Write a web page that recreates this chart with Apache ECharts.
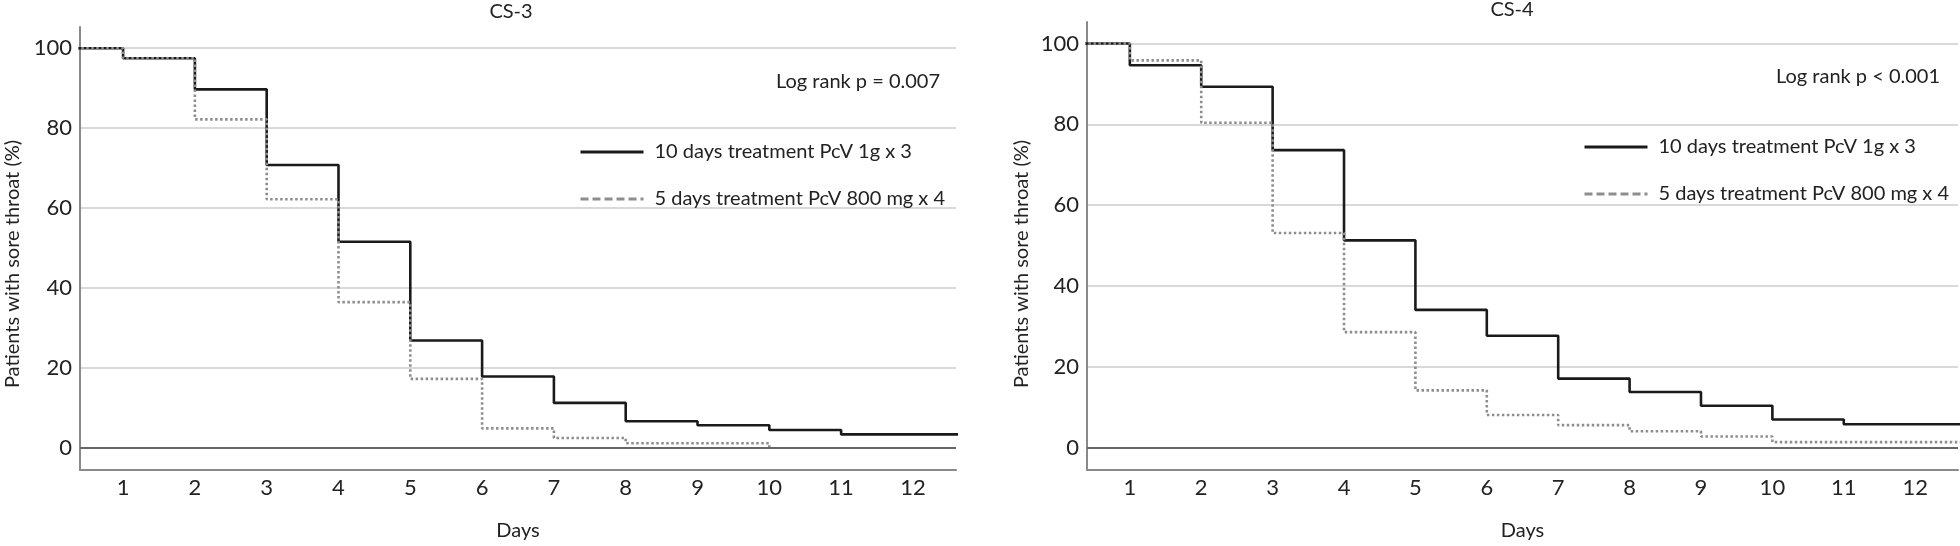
<!DOCTYPE html>
<html>
<head>
<meta charset="utf-8">
<script src="https://cdn.jsdelivr.net/npm/echarts@6/dist/echarts.min.js"></script>
<style>
  html, body { margin: 0; padding: 0; background: #fff; }
  #chart { width: 1960px; height: 546px; }
</style>
</head>
<body>
<div id="chart"></div>
<script>
// --- данные: доля пациентов с болью в горле (%) после каждого дня
const days = [0, 1, 2, 3, 4, 5, 6, 7, 8, 9, 10, 11, 12, 13];
const daysShort = [0, 1, 2, 3, 4, 5, 6, 7, 8, 9, 10];
const dayTicks = [1, 2, 3, 4, 5, 6, 7, 8, 9, 10, 11, 12];
const pctTicks = [0, 20, 40, 60, 80, 100];

const cs3Long = [100, 97.5, 89.7, 70.8, 51.6, 26.9, 17.9, 11.3, 6.7, 5.7, 4.5, 3.4, 3.4, 3.4];
const cs3Short = [100, 97.5, 82.2, 62.2, 36.5, 17.3, 4.9, 2.5, 1.2, 1.2, 0];
const cs4Long = [100, 94.6, 89.3, 73.6, 51.3, 34.1, 27.7, 17.1, 13.8, 10.4, 7.0, 5.8, 5.8, 5.8];
const cs4Short = [100, 95.8, 80.4, 53.1, 28.6, 14.2, 8.1, 5.6, 4.1, 2.8, 1.4, 1.4, 1.4, 1.4];

const titles = ['CS-3', 'CS-4'];
const pValues = ['Log rank p = 0.007', 'Log rank p < 0.001'];
const yName = 'Patients with sore throat (%)';
const nameLong = '10 days treatment PcV 1g x 3';
const nameShort = '5 days treatment PcV 800 mg x 4';

const FONT = 'Lato';
const TXT = '#222';

const chart = echarts.init(document.getElementById('chart'));

const pairs = (xs, ys) => ys.map((y, i) => [xs[i], y]);

function xAxis(idx) {
  return {
    type: 'value', gridIndex: idx, min: 0.4, max: 12.6,
    name: 'Days', nameLocation: 'middle', nameGap: 51,
    nameTextStyle: { fontFamily: FONT, fontSize: 20, color: TXT },
    axisLine: { show: true, onZero: false, lineStyle: { color: '#8a8a8a', width: 2 } },
    axisTick: { show: false, customValues: dayTicks },
    axisLabel: { customValues: dayTicks, fontFamily: FONT, fontSize: 22, color: TXT, margin: 7 },
    splitLine: { show: false },
  };
}

function yAxis(idx) {
  return {
    type: 'value', gridIndex: idx, min: -5.5, max: 105.3,
    axisLine: { show: true, onZero: false, lineStyle: { color: '#8a8a8a', width: 2 } },
    axisTick: { show: false, customValues: pctTicks },
    axisLabel: { customValues: pctTicks, fontFamily: FONT, fontSize: 22, color: TXT, margin: 8 },
    splitLine: { show: true, lineStyle: { color: '#cccccc', width: 1.5 } },
  };
}

function stepSeries(name, data, idx, solid) {
  const s = {
    name, type: 'line', step: 'end', xAxisIndex: idx, yAxisIndex: idx,
    data, symbol: 'none', clip: true, silent: true,
    lineStyle: solid
      ? { color: '#1a1a1a', width: 2.6, type: 'solid' }
      : { color: '#8e8e8e', width: 2.6, type: [2.5, 2.5] },
    itemStyle: { color: solid ? '#1a1a1a' : '#8e8e8e' },
    z: solid ? 3 : 4,
  };
  if (solid) {
    // линия нуля — тёмная
    s.markLine = {
      silent: true, symbol: 'none', label: { show: false },
      lineStyle: { color: '#666', width: 2, type: 'solid' },
      data: [{ yAxis: 0 }],
    };
  }
  return s;
}

function legend(left, top) {
  return {
    orient: 'vertical', left, top, itemWidth: 63, itemHeight: 14, itemGap: 27,
    selectedMode: false,
    textStyle: { fontFamily: FONT, fontSize: 20, color: TXT, padding: [0, 0, 0, 6] },
    data: [
      { name: nameLong, itemStyle: { opacity: 0 },
        lineStyle: { color: '#1a1a1a', width: 3, type: 'solid' } },
      { name: nameShort, itemStyle: { opacity: 0 },
        lineStyle: { color: '#8e8e8e', width: 3, type: [8, 4] } },
    ],
  };
}

const text = (t, x, y, align, rot) => ({
  type: 'text', x, y, rotation: rot || 0,
  style: { text: t, fill: TXT, font: '20px ' + FONT, textAlign: align, textVerticalAlign: 'middle' },
});

chart.setOption({
  animation: false,
  grid: [
    { left: 80, right: 1004, top: 27, bottom: 76 },
    { left: 1087, right: 2, top: 22, bottom: 75 },
  ],
  xAxis: [xAxis(0), xAxis(1)],
  yAxis: [yAxis(0), yAxis(1)],
  legend: [legend(574, 137), legend(1578, 132)],
  graphic: [
    text(titles[0], 511, 12, 'center'),
    text(titles[1], 1512, 10, 'center'),
    text(pValues[0], 940, 82, 'right'),
    text(pValues[1], 1940, 77, 'right'),
    text(yName, 13, 264, 'center', Math.PI / 2),
    text(yName, 1022, 264, 'center', Math.PI / 2),
  ],
  series: [
    stepSeries(nameLong, pairs(days, cs3Long), 0, true),
    stepSeries(nameShort, pairs(daysShort, cs3Short), 0, false),
    stepSeries(nameLong, pairs(days, cs4Long), 1, true),
    stepSeries(nameShort, pairs(days, cs4Short), 1, false),
  ],
});
</script>
</body>
</html>
